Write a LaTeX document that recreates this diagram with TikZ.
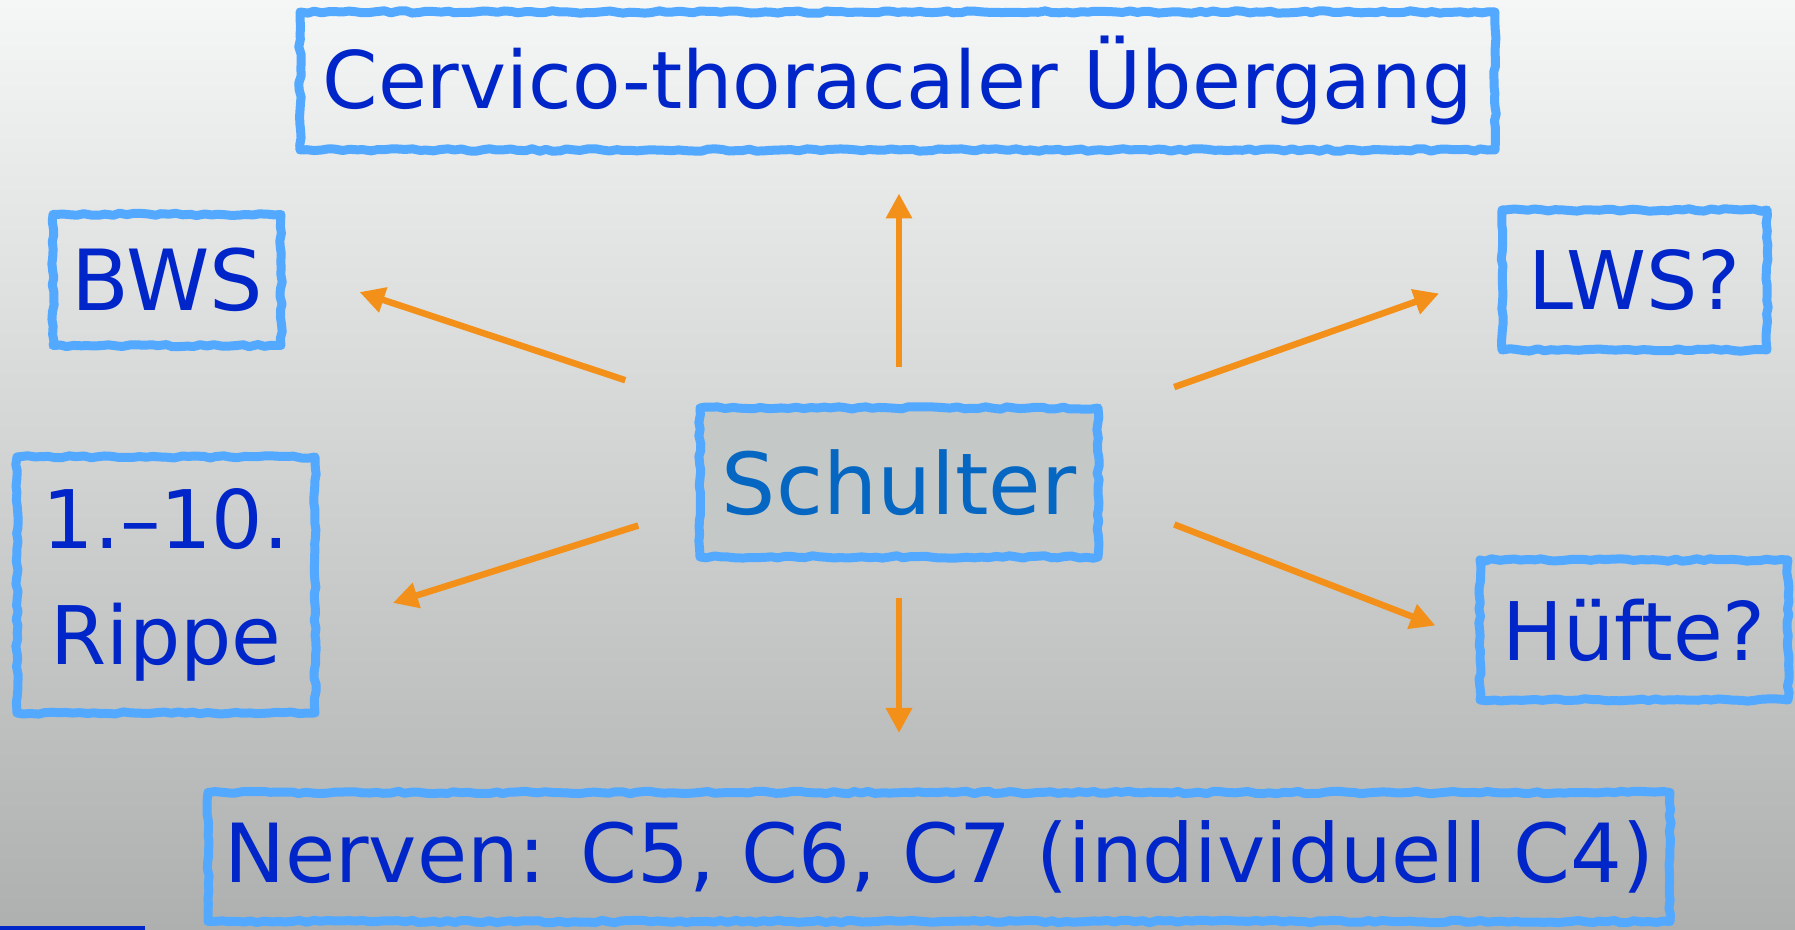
\documentclass[tikz,border=0pt]{standalone}
\usepackage{fontspec}
\setmainfont{DejaVu Sans}
\usepackage{tikz}
\usetikzlibrary{
  positioning, arrows.meta, calc,
  decorations.pathmorphing, backgrounds
}
\definecolor{bodyBlue}{HTML}{0026C9}
\definecolor{coreBlue}{HTML}{0567C2}
\definecolor{chalkBlue}{HTML}{52A9FF}
\definecolor{linkOrange}{HTML}{F39019}
\definecolor{coreFill}{HTML}{C4C9C8}
\definecolor{skyTop}{HTML}{F5F6F6}
\definecolor{skyBottom}{HTML}{AEB0AF}

\begin{document}
\begin{tikzpicture}[
  region/.style={
    rectangle, draw=chalkBlue, line width=0.09cm, inner sep=0pt,
    line join=round, text=bodyBlue, align=center,
    decorate, decoration={random steps, segment length=2pt, amplitude=0.35pt},
    font=\fontsize{23}{33}\selectfont
  },
  link/.style={
    -{Triangle[length=0.25cm, width=0.25cm]}, linkOrange, line width=0.065cm
  },
]
\pgfmathsetseed{7}

% Background
\useasboundingbox (0,0) rectangle (17.95,9.30);
\shade[top color=skyTop, bottom color=skyBottom] (0,0) rectangle (17.95,9.30);
\fill[bodyBlue] (0,0) rectangle (1.45,0.04);

% Regions
\node[region, minimum width=11.95cm, minimum height=1.38cm,
  font=\fontsize{22.6}{32}\selectfont] (cervico) at (8.975,8.49) {Cervico-thoracaler Übergang};
\node[region, minimum width=2.28cm, minimum height=1.31cm,
  font=\fontsize{24}{32}\selectfont] (bws) at (1.67,6.50) {BWS};
\node[region, minimum width=2.65cm, minimum height=1.40cm] (lws) at (16.345,6.50) {LWS?};
\node[region, minimum width=2.98cm, minimum height=2.56cm] (rippe) at (1.66,3.45) {1.–10.\\Rippe};
\node[region, minimum width=3.08cm, minimum height=1.40cm] (huefte) at (16.34,3.00) {Hüfte?};
\node[region, minimum width=14.62cm, minimum height=1.29cm,
  font=\fontsize{23.2}{32}\selectfont] (nerven) at (9.39,0.73) {Nerven: C5, C6, C7 (individuell C4)};

% Center
\node[region, minimum width=3.98cm, minimum height=1.49cm, fill=coreFill,
  text=coreBlue, font=\fontsize{24.3}{32}\selectfont] (schulter) at (8.99,4.475) {Schulter};

% Links
\draw[link, shorten <=0.36cm, shorten >=0.39cm] (schulter.north) -- (schulter.north |- cervico.south);
\draw[link, shorten <=0.37cm, shorten >=0.55cm] (schulter.south) -- (schulter.south |- nerven.north);
\draw[link, shorten <=0.74cm, shorten >=0.78cm] (schulter.north west) -- (bws.6);
\draw[link, shorten <=0.76cm, shorten >=0.62cm] (schulter.19) -- (lws.177);
\draw[link, shorten <=0.60cm, shorten >=0.77cm] (schulter.187) -- (rippe.345);
\draw[link, shorten <=0.77cm, shorten >=0.43cm] (schulter.-4) -- (huefte.184);

\end{tikzpicture}
\end{document}
